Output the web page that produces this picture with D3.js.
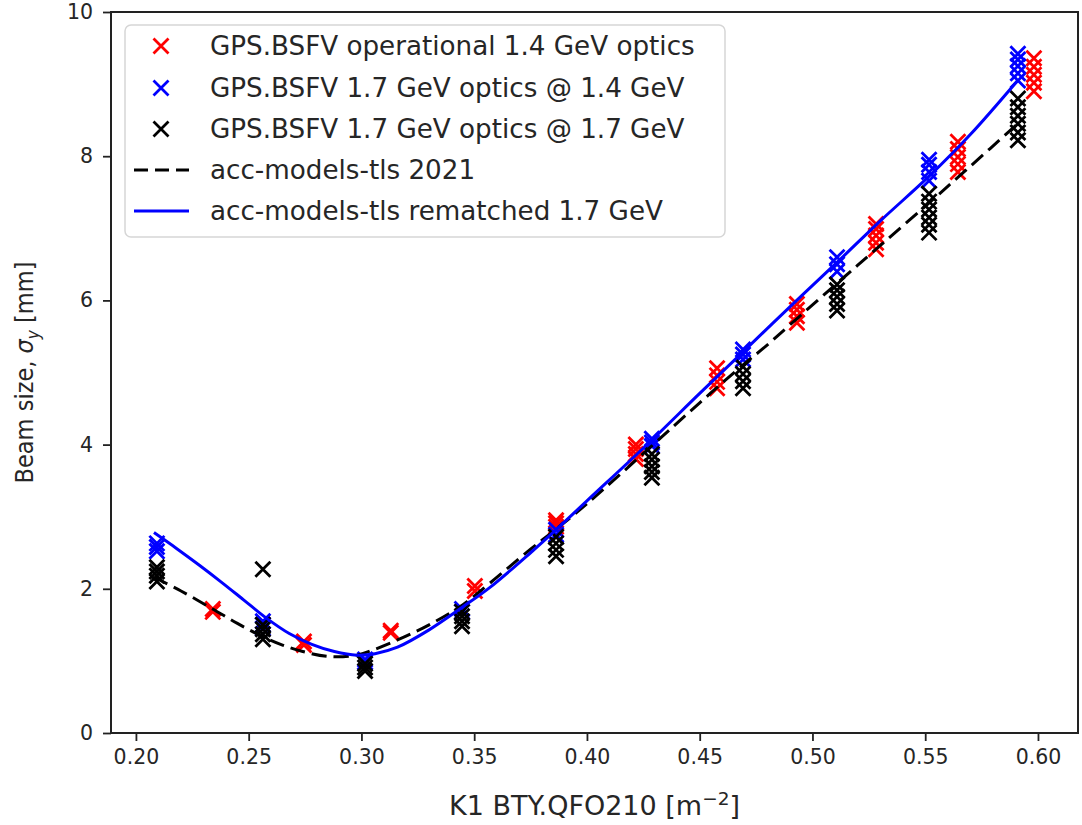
<!DOCTYPE html>
<html>
<head>
<meta charset="utf-8">
<script src="https://cdn.jsdelivr.net/npm/d3@7"></script>
<style>
  html, body { margin: 0; padding: 0; background: #fff; }
  svg text { font-family: "DejaVu Sans", sans-serif; fill: #262626; }
</style>
</head>
<body>
<svg id="chart" width="1082" height="825"></svg>
<script>
// Quadrupole strength settings (K1) and measured vertical beam sizes (mm)
const opK1 = [0.2341, 0.2745, 0.3130, 0.3503, 0.3863, 0.4217, 0.4577, 0.4931, 0.5282, 0.5645, 0.5982];
const opSigma = [
  [1.68, 1.72],
  [1.22, 1.27],
  [1.39, 1.42],
  [1.97, 2.04],
  [2.86, 2.91, 2.95],
  [3.80, 3.87, 3.94, 4.00],
  [4.78, 4.87, 4.96, 5.06],
  [5.69, 5.78, 5.87, 5.95],
  [6.71, 6.80, 6.90, 6.99, 7.06],
  [7.78, 7.89, 7.99, 8.10, 8.20],
  [8.90, 9.02, 9.13, 9.24, 9.36]
];

const m17at14K1 = [0.2093, 0.2563, 0.3016, 0.3446, 0.3863, 0.4288, 0.4692, 0.5109, 0.5517, 0.5911];
const m17at14Sigma = [
  [2.52, 2.58, 2.63],
  [1.45, 1.50, 1.55],
  [0.98, 1.02],
  [1.68, 1.72],
  [2.75, 2.82],
  [3.98, 4.03, 4.08],
  [5.18, 5.25, 5.32],
  [6.40, 6.50, 6.60],
  [7.66, 7.78, 7.88, 7.95],
  [9.05, 9.15, 9.25, 9.34, 9.42]
];

const m17at17K1 = [0.2093, 0.2563, 0.3016, 0.3446, 0.3863, 0.4288, 0.4692, 0.5109, 0.5517, 0.5911];
const m17at17Sigma = [
  [2.10, 2.18, 2.24, 2.30],
  [1.30, 1.37, 1.44, 1.50, 2.27],
  [0.86, 0.91, 0.96],
  [1.48, 1.55, 1.62, 1.68],
  [2.45, 2.54, 2.63, 2.72],
  [3.54, 3.62, 3.70, 3.79, 3.87],
  [4.78, 4.88, 4.98, 5.08],
  [5.86, 5.95, 6.05, 6.14, 6.22],
  [6.94, 7.05, 7.15, 7.26, 7.37, 7.48],
  [8.22, 8.33, 8.45, 8.56, 8.68, 8.80]
];

// Model predictions
const model2021K1 = [0.208, 0.220, 0.234, 0.245, 0.256, 0.265, 0.274, 0.286, 0.298, 0.305, 0.316, 0.330, 0.345, 0.357, 0.375, 0.386, 0.400, 0.428, 0.450, 0.469, 0.478, 0.490, 0.511, 0.530, 0.552, 0.570, 0.591];
const model2021Sigma = [2.16, 1.97, 1.72, 1.52, 1.34, 1.22, 1.13, 1.06, 1.08, 1.15, 1.29, 1.50, 1.78, 2.08, 2.55, 2.82, 3.18, 3.96, 4.58, 5.10, 5.33, 5.66, 6.24, 6.76, 7.36, 7.86, 8.45];

const rematchK1 = [0.208, 0.218, 0.228, 0.238, 0.248, 0.258, 0.268, 0.278, 0.288, 0.298, 0.306, 0.316, 0.330, 0.345, 0.357, 0.375, 0.386, 0.400, 0.428, 0.450, 0.469, 0.490, 0.511, 0.530, 0.552, 0.570, 0.591];
const rematchSigma = [2.78, 2.56, 2.33, 2.09, 1.84, 1.59, 1.38, 1.23, 1.13, 1.08, 1.10, 1.19, 1.43, 1.75, 2.02, 2.50, 2.81, 3.22, 4.04, 4.71, 5.28, 5.91, 6.53, 7.10, 7.73, 8.30, 9.05];

const xTicks = [0.20, 0.25, 0.30, 0.35, 0.40, 0.45, 0.50, 0.55, 0.60];
const yTicks = [0, 2, 4, 6, 8, 10];

const legendLabels = [
  "GPS.BSFV operational 1.4 GeV optics",
  "GPS.BSFV 1.7 GeV optics @ 1.4 GeV",
  "GPS.BSFV 1.7 GeV optics @ 1.7 GeV",
  "acc-models-tls 2021",
  "acc-models-tls rematched 1.7 GeV"
];

const svg = d3.select("#chart");
const plot = { left: 111, top: 12, right: 1078, bottom: 733 };

const x = d3.scaleLinear().domain([0.18895, 0.61775]).range([plot.left, plot.right]);
const y = d3.scaleLinear().domain([0, 10]).range([plot.bottom, plot.top]);

function flatten(ks, vals) {
  const out = [];
  ks.forEach((k, i) => vals[i].forEach(v => out.push([k, v])));
  return out;
}

const seriesPts = [
  { pts: flatten(opK1, opSigma), color: "#ff0000" },
  { pts: flatten(m17at14K1, m17at14Sigma), color: "#0000ff" },
  { pts: flatten(m17at17K1, m17at17Sigma), color: "#000000" }
];

const ms = 7.5;   // half-size of the x markers
function crossPath(cx, cy, r) {
  return `M${cx - r},${cy - r}L${cx + r},${cy + r}M${cx - r},${cy + r}L${cx + r},${cy - r}`;
}

// Axes
const xAxis = d3.axisBottom(x).tickValues(xTicks).tickFormat(d3.format(".2f")).tickSizeOuter(0).tickSize(8).tickPadding(8);
const yAxis = d3.axisLeft(y).tickValues(yTicks).tickFormat(d3.format("d")).tickSizeOuter(0).tickSize(8).tickPadding(10);

const gx = svg.append("g").attr("transform", `translate(0,${plot.bottom})`).call(xAxis);
const gy = svg.append("g").attr("transform", `translate(${plot.left},0)`).call(yAxis);
[gx, gy].forEach(g => {
  g.select(".domain").remove();
  g.selectAll(".tick line").attr("stroke", "#222").attr("stroke-width", 1.8);
  g.selectAll(".tick text").attr("font-size", 20.5).attr("fill", "#262626")
    .style("font-family", "DejaVu Sans, sans-serif");
});

// Scatter markers
const gMarks = svg.append("g");
seriesPts.forEach(s => {
  gMarks.append("g").selectAll("path").data(s.pts).join("path")
    .attr("d", d => crossPath(x(d[0]), y(d[1]), ms))
    .attr("fill", "none")
    .attr("stroke", s.color)
    .attr("stroke-width", 2.8);
});

// Model curves
const line = d3.line().x(d => x(d[0])).y(d => y(d[1])).curve(d3.curveCatmullRom.alpha(0.5));
svg.append("path")
  .datum(model2021K1.map((k, i) => [k, model2021Sigma[i]]))
  .attr("d", line).attr("fill", "none").attr("stroke", "#000")
  .attr("stroke-width", 3).attr("stroke-dasharray", "15,7");
svg.append("path")
  .datum(rematchK1.map((k, i) => [k, rematchSigma[i]]))
  .attr("d", line).attr("fill", "none").attr("stroke", "#0000ff")
  .attr("stroke-width", 3);

// Frame
svg.append("rect")
  .attr("x", plot.left).attr("y", plot.top)
  .attr("width", plot.right - plot.left).attr("height", plot.bottom - plot.top)
  .attr("fill", "none").attr("stroke", "#222").attr("stroke-width", 2);

// Axis titles
const xl = svg.append("text")
  .attr("x", (plot.left + plot.right) / 2).attr("y", 815)
  .attr("text-anchor", "middle").attr("font-size", 27);
xl.append("tspan").text("K1 BTY.QFO210 [m");
xl.append("tspan").attr("font-size", 18.5).attr("dy", -10).text("\u22122");
xl.append("tspan").attr("dy", 10).text("]");

const yl = svg.append("text")
  .attr("transform", `translate(33,${(plot.top + plot.bottom) / 2}) rotate(-90)`)
  .attr("text-anchor", "middle").attr("font-size", 25)
  .style("font-stretch", "condensed");
yl.append("tspan").text("Beam size, ");
yl.append("tspan").attr("font-style", "italic").text("\u03c3");
yl.append("tspan").attr("font-size", 17).attr("dy", 6).attr("font-style", "italic").text("y");
yl.append("tspan").attr("dy", -6).text(" [mm]");

// Legend
const lg = svg.append("g");
lg.append("rect")
  .attr("x", 125).attr("y", 25).attr("width", 600).attr("height", 212)
  .attr("rx", 6).attr("fill", "#fff").attr("fill-opacity", 0.85)
  .attr("stroke", "#d6d6d6").attr("stroke-width", 1.5);
const rowY = [46, 88, 129, 170, 211];
const legendStyle = [
  { type: "marker", color: "#ff0000" },
  { type: "marker", color: "#0000ff" },
  { type: "marker", color: "#000000" },
  { type: "dash", color: "#000000" },
  { type: "line", color: "#0000ff" }
];
legendLabels.forEach((label, i) => {
  const st = legendStyle[i];
  const cy = rowY[i];
  if (st.type === "marker") {
    lg.append("path").attr("d", crossPath(161, cy, ms))
      .attr("fill", "none").attr("stroke", st.color).attr("stroke-width", 2.8);
  } else {
    lg.append("line").attr("x1", 134).attr("x2", 189).attr("y1", cy).attr("y2", cy)
      .attr("stroke", st.color).attr("stroke-width", 3)
      .attr("stroke-dasharray", st.type === "dash" ? "14,7" : null);
  }
  lg.append("text").attr("x", 210).attr("y", cy).attr("dy", "0.36em")
    .attr("font-size", 26.2).text(label);
});
</script>
</body>
</html>
